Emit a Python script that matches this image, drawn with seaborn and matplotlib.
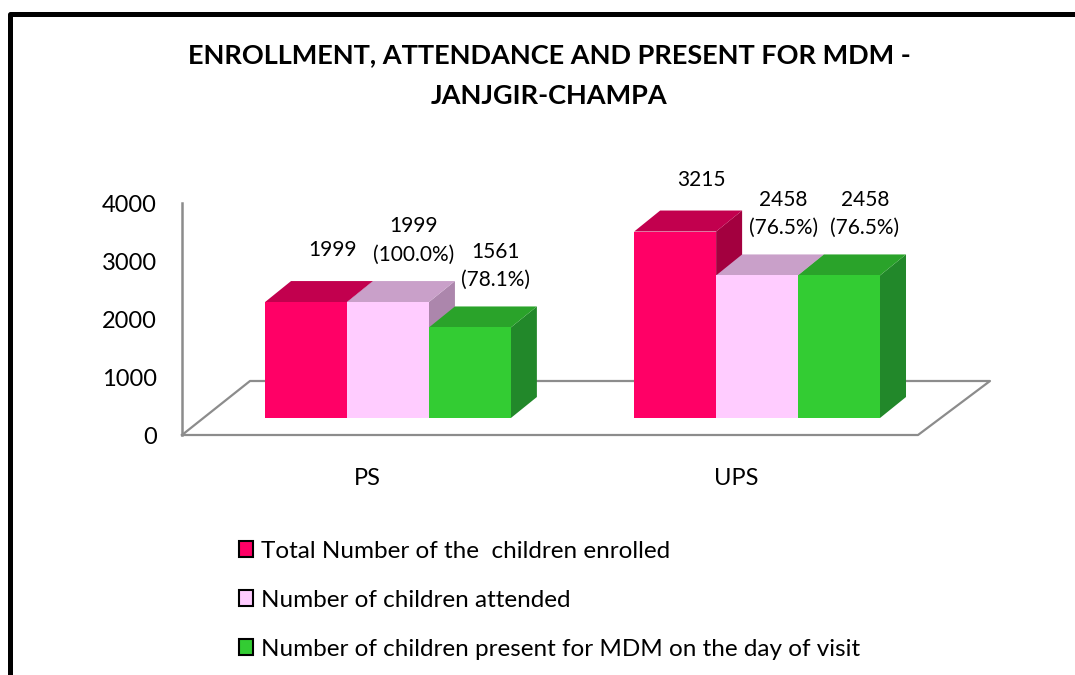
import numpy as np
import pandas as pd
import matplotlib
matplotlib.use("Agg")
import matplotlib.pyplot as plt
import matplotlib.transforms as mtransforms
from matplotlib.patches import Polygon, Patch
from matplotlib.lines import Line2D
import seaborn as sns

# datos
escuelas = ["PS", "UPS"]
series = ["Total Number of the  children enrolled",
          "Number of children attended",
          "Number of children present for MDM on the day of visit"]
matriculados = [1999, 3215]
asistieron = [1999, 2458]
presentes_mdm = [1561, 2458]

colores_frente = ["#FF0066", "#FFCCFF", "#33CC33"]
colores_arriba = ["#C2004E", "#C9A0C9", "#2AA32A"]
colores_lado = ["#A3003F", "#AC86AC", "#22882A"]

df = pd.DataFrame({
    "escuela": escuelas * 3,
    "serie": [series[0]] * 2 + [series[1]] * 2 + [series[2]] * 2,
    "valor": matriculados + asistieron + presentes_mdm,
})

plt.rcParams["font.family"] = ["Lato", "DejaVu Sans"]

W, H = 1075, 675
fig = plt.figure(figsize=(W / 100, H / 100), dpi=100)


def fx(px):
    return px / W


def fy(py):
    return 1 - py / H


# ejes: 0 en y=418 px, 4000 en y=186 px
ax = fig.add_axes([fx(182), fy(418), fx(990) - fx(182), (418 - 186) / H])
sns.barplot(data=df, x="escuela", y="valor", hue="serie", palette=colores_frente,
            saturation=1, width=0.666, ax=ax, legend=False, linewidth=0)
ax.set_xlim(-0.558, 1.631)
ax.set_ylim(0, 4000)
for s in ax.spines.values():
    s.set_visible(False)
ax.set_xlabel("")
ax.set_ylabel("")
ax.patch.set_visible(False)

# profundidad 3D en px -> unidades de datos
prof_x, prof_y = 26, 21
x0d, y0d = ax.transData.transform((0, 0))
dx = ax.transData.inverted().transform((x0d + prof_x, y0d))[0]
dy = ax.transData.inverted().transform((x0d, y0d + prof_y))[1]

n_esc = len(escuelas)
z = 3
for i, bar in enumerate(ax.patches):
    k = i // n_esc
    x, w, h = bar.get_x(), bar.get_width(), bar.get_height()
    lado = Polygon([(x + w, 0), (x + w, h), (x + w + dx, h + dy), (x + w + dx, dy)],
                   closed=True, facecolor=colores_lado[k], edgecolor="none", zorder=z)
    arriba = Polygon([(x, h), (x + w, h), (x + w + dx, h + dy), (x + dx, h + dy)],
                     closed=True, facecolor=colores_arriba[k], edgecolor="none", zorder=z + 1)
    ax.add_patch(lado)
    ax.add_patch(arriba)
    bar.set_zorder(z + 2)
    z += 3

# etiquetas de valores
valores = [matriculados, asistieron, presentes_mdm]
for i, bar in enumerate(ax.patches[:3 * n_esc]):
    k, j = divmod(i, n_esc)
    v = valores[k][j]
    if k == 0:
        txt = f"{v}"
        extra = 15
    else:
        txt = f"{v}\n({v / matriculados[j] * 100:.1f}%)"
        extra = 12
    xc = bar.get_x() + bar.get_width() / 2 + dx
    ax.annotate(txt, (xc, v + dy), xytext=(0, extra), textcoords="offset points",
                ha="center", va="bottom", fontsize=15, linespacing=1.5,
                zorder=50, annotation_clip=False)

# eje y con etiquetas desplazadas hacia el frente
ax.set_yticks([0, 1000, 2000, 3000, 4000])
ax.tick_params(axis="y", length=0, pad=18, labelsize=17)
off_y = mtransforms.ScaledTranslation(0, -17 / 100, fig.dpi_scale_trans)
for lab in ax.get_yticklabels():
    lab.set_transform(lab.get_transform() + off_y)

ax.tick_params(axis="x", length=0, pad=36, labelsize=17)
off_x = mtransforms.ScaledTranslation(-21 / 100, 0, fig.dpi_scale_trans)
for lab in ax.get_xticklabels():
    lab.set_transform(lab.get_transform() + off_x)

# piso y eje vertical
gris = "#8C8C8C"
piso = [(182, 435), (918, 435), (990, 381), (250, 381), (182, 435)]
fig.add_artist(Line2D([fx(p[0]) for p in piso], [fy(p[1]) for p in piso],
                      color=gris, lw=1.6, zorder=0))
fig.add_artist(Line2D([fx(182), fx(182)], [fy(435), fy(203)], color=gris, lw=1.8))

# titulo
fig.text(fx(549), fy(76), "ENROLLMENT, ATTENDANCE AND PRESENT FOR MDM -\nJANJGIR-CHAMPA",
         ha="center", va="center", fontsize=19.5, fontweight="bold", linespacing=1.85)

# leyenda
manijas = [Patch(facecolor=c, edgecolor="black", linewidth=1.5) for c in colores_frente]
fig.legend(manijas, series, loc="upper left", bbox_to_anchor=(fx(229), fy(531)),
           frameon=False, fontsize=17.5, handlelength=0.6, handleheight=0.6,
           handletextpad=0.3, labelspacing=1.15, borderaxespad=0)

# marco negro
fig.add_artist(Line2D([fx(9.5), fx(9.5), 1], [0, fy(14), fy(14)], color="black", lw=3.6))

fig.savefig("out.png", dpi=100)
